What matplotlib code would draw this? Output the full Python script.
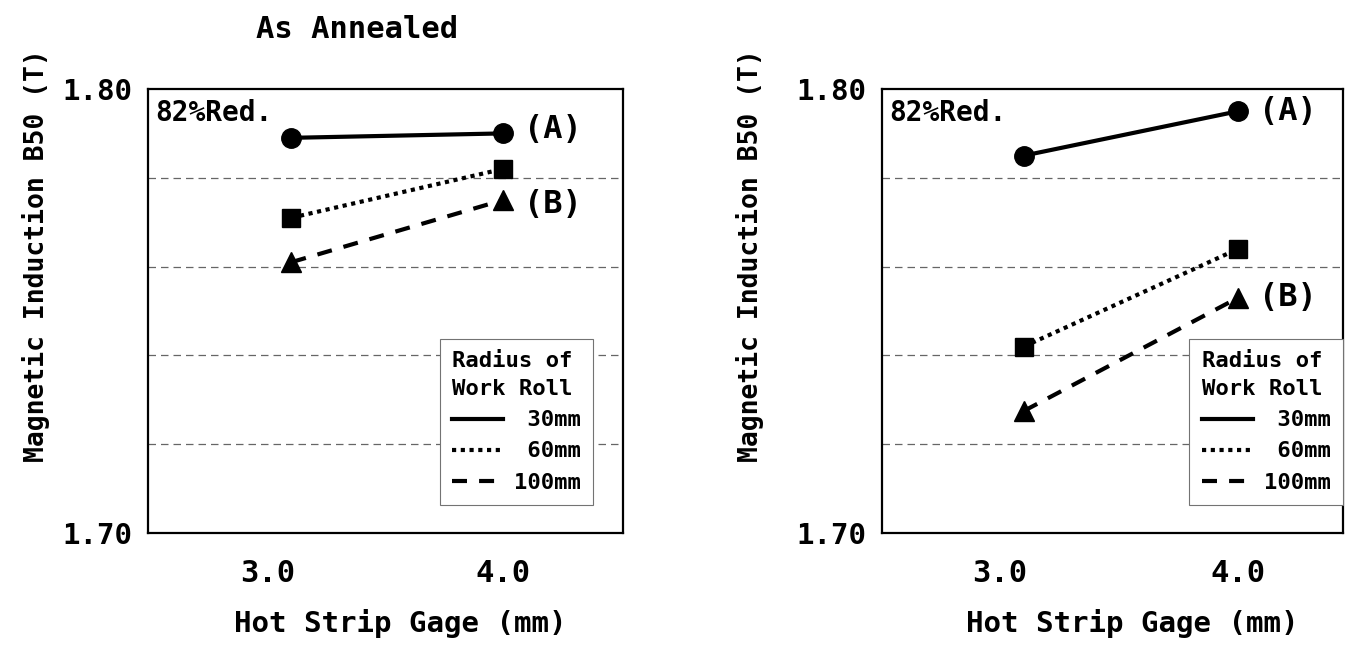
import matplotlib
matplotlib.use("Agg")
import matplotlib.pyplot as plt
from matplotlib.lines import Line2D

plt.rcParams['font.family'] = ['DejaVu Sans Mono', 'Noto Sans CJK JP']
plt.rcParams['font.weight'] = 'bold'

# hot strip gage (mm) of the two measured points
gage = [3.1, 4.0]
gage_ticks = [3.0, 4.0]
b50_ticks = [1.70, 1.80]
b50_grid = [1.72, 1.74, 1.76, 1.78]
radius_labels = [' 30mm', ' 60mm', '100mm']

# B50 (T), as annealed, work roll radius 30 / 60 / 100 mm
annealed_30 = [1.789, 1.790]
annealed_60 = [1.771, 1.782]
annealed_100 = [1.761, 1.775]

# B50 (T), second panel, work roll radius 30 / 60 / 100 mm
panel2_30 = [1.785, 1.795]
panel2_60 = [1.742, 1.764]
panel2_100 = [1.7275, 1.753]

W, H = 1356, 652
styles = [('-', 'o', 14), ((0, (1, 1.1)), 's', 13.5), ((0, (3.6, 2.9)), '^', 14)]


def draw_panel(ax, series, xlim, leg_x, a_dy, b_dy):
    for vals, (ls, mk, ms) in zip(series, styles):
        ax.plot(gage, vals, color='k', lw=3, ls=ls, marker=mk, ms=ms,
                dash_capstyle='butt')
    ax.set_xlim(*xlim)
    ax.set_ylim(1.70, 1.80)
    ax.set_xticks(gage_ticks)
    ax.set_xticklabels([f'{v:.1f}' for v in gage_ticks], fontsize=22)
    ax.set_yticks(b50_ticks)
    ax.set_yticklabels([f'{v:.2f}' for v in b50_ticks], fontsize=21)
    ax.set_yticks(b50_grid, minor=True)
    ax.tick_params(which='both', length=0)
    ax.tick_params(axis='x', pad=19)
    ax.tick_params(axis='y', pad=11)
    ax.grid(which='minor', axis='y', color='0.4', lw=0.9, ls=(0, (6, 4)))
    for sp in ax.spines.values():
        sp.set_linewidth(1.6)

    ax.text(0.015, 0.946, '82%Red.', transform=ax.transAxes, fontsize=20,
            ha='left', va='center')
    ax.annotate('(A)', (gage[-1], series[0][-1]), xytext=(15, a_dy),
                textcoords='offset points', fontsize=23, ha='left', va='center')
    ax.annotate('(B)', (gage[-1], series[2][-1]), xytext=(15, b_dy),
                textcoords='offset points', fontsize=23, ha='left', va='center')

    handles = [Line2D([], [], color='k', lw=3, ls=ls) for ls, _, _ in styles]
    leg = ax.legend(handles, radius_labels, title='Radius of\nWork Roll',
                    loc='upper right', bbox_to_anchor=(leg_x, 0.437),
                    prop={'size': 16, 'weight': 'bold'},
                    title_fontproperties={'size': 16, 'weight': 'bold'},
                    alignment='left', handlelength=2.3, handletextpad=0.5,
                    labelspacing=0.5, borderpad=0.55, borderaxespad=0,
                    fancybox=False, edgecolor='0.45', framealpha=1)
    leg.get_title().set_linespacing(1.5)
    leg.get_frame().set_linewidth(0.8)


fig = plt.figure(figsize=(W / 100, H / 100), dpi=100)
ax1 = fig.add_axes([148 / W, 1 - 533 / H, 475 / W, 444 / H])
ax2 = fig.add_axes([882 / W, 1 - 533 / H, 461 / W, 444 / H])

draw_panel(ax1, [annealed_30, annealed_60, annealed_100], (2.49, 4.51), 0.937, 3, -3)
draw_panel(ax2, [panel2_30, panel2_60, panel2_100], (2.504, 4.44), 1.0, 0, 0)

fig.text(357 / W, 1 - 30 / H, 'As Annealed', fontsize=22, ha='center', va='center')
for xc in (36, 750):
    fig.text(xc / W, 1 - 256 / H, 'Magnetic Induction B50 (T)', fontsize=19,
             rotation=90, ha='center', va='center')
for xc in (400, 1132):
    fig.text(xc / W, 1 - 624 / H, 'Hot Strip Gage (mm)', fontsize=21,
             ha='center', va='center')

fig.savefig('out.png', dpi=100)
